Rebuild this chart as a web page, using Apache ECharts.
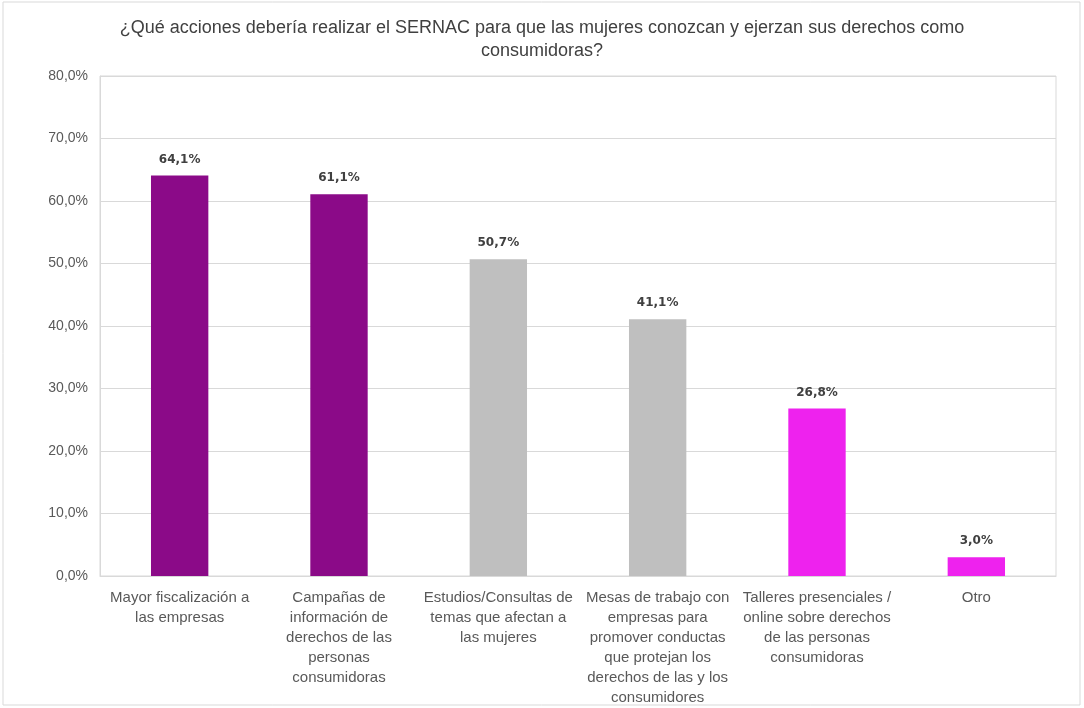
<!DOCTYPE html>
<html>
<head>
<meta charset="utf-8">
<script src="https://cdn.jsdelivr.net/npm/echarts@6/dist/echarts.min.js"></script>
<style>
  html, body { margin: 0; padding: 0; background: #fff; }
  #chart { width: 1084px; height: 708px; }
</style>
</head>
<body>
<div id="chart"></div>
<script>
// categorías y valores (%)
var categories = [
  'Mayor fiscalización a\nlas empresas',
  'Campañas de\ninformación de\nderechos de las\npersonas\nconsumidoras',
  'Estudios/Consultas de\ntemas que afectan a\nlas mujeres',
  'Mesas de trabajo con\nempresas para\npromover conductas\nque protejan los\nderechos de las y los\nconsumidores',
  'Talleres presenciales /\nonline sobre derechos\nde las personas\nconsumidoras',
  'Otro'
];
var values = [64.1, 61.1, 50.7, 41.1, 26.8, 3.0];
var barColors = ['#8B0A88', '#8B0A88', '#BFBFBF', '#BFBFBF', '#EE22EE', '#EE22EE'];

var fmt = function (v) { return v.toFixed(1).replace('.', ',') + '%'; };

var chart = echarts.init(document.getElementById('chart'));
chart.setOption({
  backgroundColor: '#fff',
  animation: false,
  title: {
    text: '¿Qué acciones debería realizar el SERNAC para que las mujeres conozcan y ejerzan sus derechos como\nconsumidoras?',
    left: 'center',
    top: 12,
    textStyle: {
      fontFamily: 'Liberation Sans',
      fontSize: 18,
      fontWeight: 'normal',
      color: '#404040',
      lineHeight: 23,
      align: 'center'
    }
  },
  graphic: [{
    type: 'rect',
    shape: { x: 3, y: 2, width: 1077, height: 703 },
    style: { fill: 'none', stroke: '#D9D9D9', lineWidth: 1 },
    silent: true
  }],
  grid: { left: 100, right: 28, top: 76, bottom: 131, show: true, borderColor: '#D9D9D9', borderWidth: 1 },
  xAxis: {
    type: 'category',
    data: categories,
    axisTick: { show: false },
    axisLine: { lineStyle: { color: '#D9D9D9' } },
    axisLabel: {
      interval: 0,
      color: '#595959',
      fontFamily: 'Liberation Sans',
      fontSize: 15,
      lineHeight: 20,
      margin: 12
    }
  },
  yAxis: {
    type: 'value',
    min: 0,
    max: 80,
    interval: 10,
    axisLine: { show: true, lineStyle: { color: '#D9D9D9' } },
    splitLine: { lineStyle: { color: '#D9D9D9' } },
    axisLabel: {
      color: '#595959',
      fontFamily: 'Liberation Sans',
      fontSize: 14,
      margin: 12,
      formatter: function (v) { return fmt(v); }
    }
  },
  series: [{
    type: 'bar',
    barWidth: '36%',
    data: values.map(function (v, i) {
      return { value: v, itemStyle: { color: barColors[i] } };
    }),
    label: {
      show: true,
      position: 'top',
      distance: 10,
      color: '#404040',
      fontFamily: 'DejaVu Sans',
      fontWeight: 'bold',
      fontSize: 12,
      formatter: function (p) { return fmt(p.value); }
    }
  }]
});
</script>
</body>
</html>
